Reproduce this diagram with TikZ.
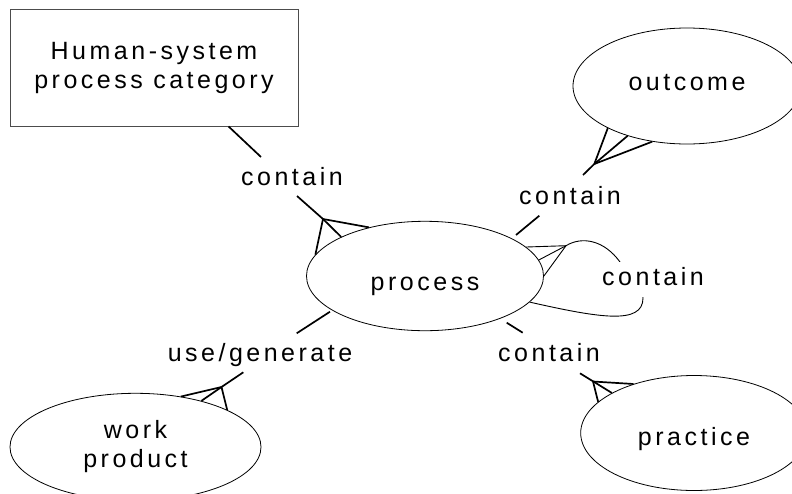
\documentclass[tikz,border=0pt]{standalone}
\usepackage{fontspec}
\setmainfont{Liberation Sans}[LetterSpace=14]
\usetikzlibrary{shapes.geometric}
\begin{document}
\begin{tikzpicture}[x=1pt,y=-1pt,
  txt/.style={font=\fontsize{25}{29}\selectfont, inner sep=0pt},
  boxnode/.style={txt, draw=black!70, line width=0.9pt, rectangle, align=center},
  ell/.style={txt, draw=black, line width=0.8pt, ellipse, align=center},
  lbl/.style={txt, text height=18pt, text depth=5pt},
  conn/.style={line width=1.7pt, draw=black},
  thin/.style={line width=0.9pt, draw=black}]
\clip (0,0) rectangle (792,493);
\fill[white] (0,0) rectangle (792,493);

% main nodes
\node[boxnode, minimum width=288pt, minimum height=117pt] (hs) at (154,67.5) {Human-system\\process category};
\node[ell, minimum width=237pt, minimum height=109.4pt, text height=28pt, text depth=0pt] (proc) at (425,276) {process};
\node[ell, minimum width=228pt, minimum height=116pt, text height=8pt, text depth=0pt] (out) at (687,86) {outcome};
\node[ell, minimum width=226.6pt, minimum height=115pt, text height=24pt, text depth=0pt] (prac) at (694,433) {practice};
\node[ell, minimum width=251pt, minimum height=107.4pt] (wp) at (135.5,447) {work\\product};

% labels
\node[lbl] (l1) at (292,178.5) {contain};
\node[lbl] (l2) at (570,197.5) {contain};
\node[lbl] (l3) at (260,355.2) {use/generate};
\node[lbl] (l4) at (549,355.2) {contain};

% coordinates
\coordinate (c1a) at (261,157);
\coordinate (c1b) at (297,196);
\coordinate (m1) at (323,219);
\coordinate (m2) at (594.3,164);
\coordinate (c2a) at (583,175);
\coordinate (c2b) at (539.3,215.7);
\coordinate (c2c) at (516,235);
\coordinate (c3a) at (330,311.7);
\coordinate (c3b) at (296.7,333.3);
\coordinate (c3c) at (243.3,372.3);
\coordinate (m3) at (221.5,387);
\coordinate (c4a) at (506.7,322.7);
\coordinate (c4b) at (522.7,332.7);
\coordinate (c4c) at (580,373.3);
\coordinate (m4) at (593,381.5);
\coordinate (m5) at (566,245.7);

% Human-system -- process
\draw[conn] ([xshift=219pt]hs.south west) -- (c1a);
\draw[conn] (c1b) -- (m1);
\draw[conn] (m1) -- (proc.169.3);
\draw[conn] (m1) -- (proc.155.7);
\draw[conn] (m1) -- (proc.139.4);

% process -- outcome
\draw[conn] (c2c) -- (c2b);
\draw[conn] (c2a) -- (m2);
\draw[conn] (m2) -- (out.208);
\draw[conn] (m2) -- (out.220.4);
\draw[conn] (m2) -- (out.238);

% process -- work product
\draw[conn] (c3a) -- (c3b);
\draw[conn] (c3c) -- (m3);
\draw[conn] (m3) -- (wp.48.9);
\draw[conn] (m3) -- (wp.35.5);
\draw[conn] (m3) -- (wp.22.2);

% process -- practice
\draw[conn] (c4a) -- (c4b);
\draw[conn] (c4c) -- (prac.154.3);
\draw[conn] (m4) -- (prac.141.1);
\draw[conn] (m4) -- (prac.162.8);

% self loop
\draw[thin] (m5) -- (proc.16.4);
\draw[thin] (m5) -- (proc.8.2);
\draw[thin] (m5) -- (proc.0.9);
\draw[thin] (m5) .. controls (582,236) and (604,240) .. (620,262)
   .. controls (632,276) and (643,284) .. (643,298)
   .. controls (643,325) and (600,318) .. (proc.346.2);
\node[lbl, fill=white, inner xsep=2pt, inner ysep=6pt] (l5) at (653,279.2) {contain};
\end{tikzpicture}
\end{document}
